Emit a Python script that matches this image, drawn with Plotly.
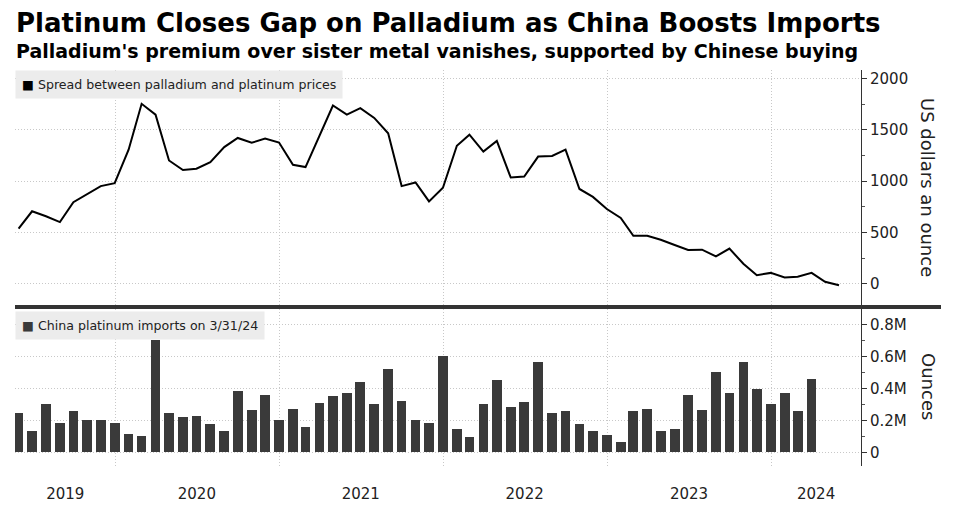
import plotly.graph_objects as go
import pandas as pd

# monthly spread, palladium minus platinum, US$/oz (month ends May 2019 - May 2024)
spread_dates = pd.date_range("2019-05-31", periods=61, freq="ME")
spread = [538, 707, 659, 602, 796, 873, 952, 981, 1306, 1752,
          1647, 1201, 1108, 1121, 1185, 1331, 1420, 1373, 1414, 1376,
          1159, 1137, 1440, 1736, 1647, 1710, 1615, 1465, 952, 987,
          803, 936, 1344, 1452, 1287, 1392, 1035, 1045, 1239, 1245,
          1306, 924, 847, 729, 643, 468, 468, 430, 379, 331,
          334, 268, 344, 197, 86, 108, 64, 70, 108, 22,
          -13]

# China platinum imports, ounces (month ends May 2019 - Mar 2024)
import_dates = pd.date_range("2019-05-31", periods=59, freq="ME")
imports = [0.246, 0.131, 0.304, 0.183, 0.258, 0.204, 0.204, 0.183, 0.117, 0.102,
           0.702, 0.244, 0.223, 0.227, 0.179, 0.131, 0.383, 0.263, 0.358, 0.200,
           0.269, 0.160, 0.310, 0.350, 0.369, 0.442, 0.300, 0.519, 0.321, 0.200,
           0.185, 0.600, 0.146, 0.098, 0.304, 0.450, 0.281, 0.315, 0.567, 0.244,
           0.258, 0.175, 0.131, 0.108, 0.065, 0.256, 0.269, 0.131, 0.146, 0.358,
           0.263, 0.500, 0.373, 0.567, 0.398, 0.304, 0.373, 0.256, 0.456]
imports = [v * 1e6 for v in imports]

year_starts = ["2020-01-01", "2021-01-01", "2022-01-01", "2023-01-01", "2024-01-01"]
year_label_pos = ["2019-09-12", "2020-07-01", "2021-07-01", "2022-07-01", "2023-07-02", "2024-04-10"]
year_labels = ["2019", "2020", "2021", "2022", "2023", "2024"]

spread_ticks = [0, 500, 1000, 1500, 2000]
import_ticks = [0, 200000, 400000, 600000, 800000]
import_tick_text = ["0", "0.2M", "0.4M", "0.6M", "0.8M"]

FONT = "DejaVu Sans"
GRID = "#c8c8c8"
DOTS = "1px,2px"

W, H = 954, 505
ML, MR, MT, MB = 15, 93, 70, 39
PW, PH = W - ML - MR, H - MT - MB


def px(x=None, y=None):
    # page pixels -> paper coords
    if x is not None:
        return (x - ML) / PW
    return (H - MB - y) / PH


fig = go.Figure()

fig.add_trace(go.Scatter(x=spread_dates, y=spread, mode="lines",
                         line=dict(color="black", width=2),
                         xaxis="x2", yaxis="y2", showlegend=False))
fig.add_trace(go.Bar(x=import_dates, y=imports, marker_color="#3a3a3a",
                     marker_line_width=0, width=21.6 * 86400000,
                     xaxis="x", yaxis="y", showlegend=False))

x_range = ["2019-05-23", "2024-07-19"]

fig.update_layout(
    width=W, height=H,
    margin=dict(l=ML, r=MR, t=MT, b=MB),
    paper_bgcolor="white", plot_bgcolor="white",
    font=dict(family=FONT, color="#222222"),
    xaxis=dict(range=x_range, type="date", anchor="y", automargin=False,
               tickmode="array", tickvals=year_label_pos, ticktext=year_labels,
               ticks="", showgrid=False, zeroline=False, showline=False,
               ticklabelstandoff=17,
               tickfont=dict(size=15, color="#222222"),
               minor=dict(tickmode="array", tickvals=year_starts, showgrid=True,
                          gridcolor=GRID, griddash=DOTS, gridwidth=1, ticks="")),
    xaxis2=dict(range=x_range, type="date", anchor="y2", matches="x", automargin=False,
                tickmode="array", tickvals=year_starts, showticklabels=False,
                ticks="", showgrid=True, gridcolor=GRID, griddash=DOTS,
                zeroline=False, showline=False),
    yaxis=dict(domain=[0, px(y=309)], range=[-85600, 895600], side="right",
               automargin=False,
               tickmode="array", tickvals=import_ticks, ticktext=import_tick_text,
               ticks="outside", ticklen=5, tickcolor="#333333",
               showline=True, linecolor="#333333", linewidth=1,
               showgrid=True, gridcolor=GRID, griddash=DOTS, zeroline=False,
               tickfont=dict(size=15, color="#222222"),
               minor=dict(dtick=100000, tick0=0, ticks="outside", ticklen=3,
                          tickcolor="#555555", showgrid=False)),
    yaxis2=dict(domain=[px(y=306), 1], range=[-214, 2081], side="right", anchor="x2",
                automargin=False,
                tickmode="array", tickvals=spread_ticks,
                ticks="outside", ticklen=5, tickcolor="#333333",
                showline=True, linecolor="#333333", linewidth=1,
                showgrid=True, gridcolor=GRID, griddash=DOTS, zeroline=False,
                tickfont=dict(size=15, color="#222222"),
                minor=dict(dtick=250, tick0=0, ticks="outside", ticklen=3,
                           tickcolor="#555555", showgrid=False)),
    bargap=0,
)

# separator between panels
fig.add_shape(type="line", xref="paper", yref="paper", x0=0, x1=px(x=941),
              y0=px(y=307), y1=px(y=307), line=dict(color="#333333", width=4))

annos = [
    dict(text="<b>Platinum Closes Gap on Palladium as China Boosts Imports</b>",
         y=px(y=23), font=dict(size=26, color="black")),
    dict(text="<b>Palladium's premium over sister metal vanishes, supported by Chinese buying</b>",
         y=px(y=51), font=dict(size=19, color="black")),
]
for a in annos:
    fig.add_annotation(xref="paper", yref="paper", x=0, xanchor="left", yanchor="middle",
                       showarrow=False, borderpad=0, **a)

fig.add_annotation(text="<span style='color:black'>■</span> Spread between palladium and platinum prices",
                   xref="paper", yref="paper", x=0, y=1, xanchor="left", yanchor="top",
                   showarrow=False, bgcolor="#ececec", borderpad=6,
                   font=dict(size=12.6, color="#222222"))
fig.add_annotation(text="<span style='color:#3a3a3a'>■</span> China platinum imports on 3/31/24",
                   xref="paper", yref="paper", x=0, y=px(y=311), xanchor="left", yanchor="top",
                   showarrow=False, bgcolor="#ececec", borderpad=6,
                   font=dict(size=12.6, color="#222222"))

fig.add_annotation(text="US dollars an ounce", xref="paper", yref="paper",
                   x=px(x=928), y=px(y=187), xanchor="center", yanchor="middle",
                   textangle=90, showarrow=False,
                   font=dict(size=18, color="#222222"))
fig.add_annotation(text="Ounces", xref="paper", yref="paper",
                   x=px(x=929), y=px(y=387), xanchor="center", yanchor="middle",
                   textangle=90, showarrow=False,
                   font=dict(size=18, color="#222222"))

# page body has a default margin; drop it so the figure sits at the top-left corner
fig.write_html("out.html", config={"displayModeBar": False},
               post_script="document.body.style.margin='0px';")
